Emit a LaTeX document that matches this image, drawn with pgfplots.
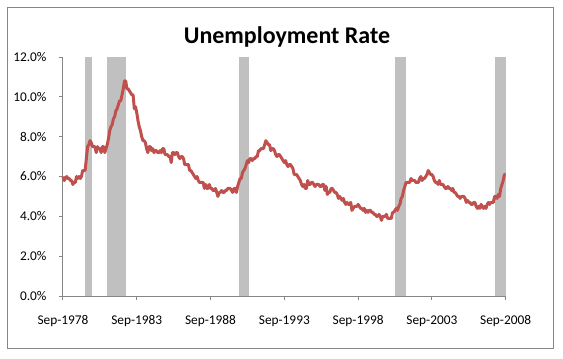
\documentclass[border=0pt]{standalone}
\usepackage{pgfplots}
\pgfplotsset{compat=1.18}
\usepackage{fontspec}
\setmainfont{Carlito}
\definecolor{linered}{HTML}{C0504D}
\definecolor{bargray}{HTML}{C0C0C0}
\definecolor{axgray}{HTML}{868686}
\begin{document}
\begin{tikzpicture}[x=0.75pt,y=-0.75pt]
\draw[axgray, line width=0.75pt] (7,7) rectangle (553,348);
\node[anchor=base, font=\fontsize{18}{22}\selectfont\bfseries] at (287,43) {Unemployment Rate};
\begin{axis}[
 at={(47.25pt,-222pt)}, anchor=south west,
 scale only axis, width=332pt, height=179.25pt,
 xmin=0, xmax=360, ymin=0, ymax=12,
 axis lines*=left,
 axis line style={draw=axgray, line width=0.75pt},
 tick style={draw=axgray, line width=0.75pt},
 tick align=outside, major tick length=3.2pt,
 xtick={0,60,120,180,240,300,360},
 xticklabels={Sep-1978,Sep-1983,Sep-1988,Sep-1993,Sep-1998,Sep-2003,Sep-2008},
 ytick={0,2,4,6,8,10,12},
 yticklabels={0.0\%,2.0\%,4.0\%,6.0\%,8.0\%,10.0\%,12.0\%},
 tick label style={font=\fontsize{10}{12}\selectfont, inner sep=0pt},
 xticklabel style={anchor=north, yshift=-11.5pt},
 yticklabel style={anchor=east, xshift=-9pt},
 clip=false,
]
% recession bars
\addplot[fill=bargray, draw=none] coordinates {(18,12)(23.3,12)} \closedcycle;
\addplot[fill=bargray, draw=none] coordinates {(35.8,12)(51.2,12)} \closedcycle;
\addplot[fill=bargray, draw=none] coordinates {(143,12)(151.3,12)} \closedcycle;
\addplot[fill=bargray, draw=none] coordinates {(270,12)(279,12)} \closedcycle;
\addplot[fill=bargray, draw=none] coordinates {(351.3,12)(360,12)} \closedcycle;
% unemployment rate
\addplot[linered, line width=2.25pt, line join=round, mark=none] coordinates {
(0,6.0)(1,5.8)(2,5.9)(3,6.0)
(4,5.9)(5,5.9)(6,5.8)(7,5.8)(8,5.6)(9,5.7)(10,5.7)(11,6.0)(12,5.9)(13,6.0)(14,5.9)(15,6.0)
(16,6.3)(17,6.3)(18,6.3)(19,6.9)(20,7.5)(21,7.6)(22,7.8)(23,7.7)(24,7.5)(25,7.5)(26,7.5)(27,7.2)
(28,7.5)(29,7.4)(30,7.4)(31,7.2)(32,7.5)(33,7.5)(34,7.2)(35,7.4)(36,7.6)(37,7.9)(38,8.3)(39,8.5)
(40,8.6)(41,8.9)(42,9.0)(43,9.3)(44,9.4)(45,9.6)(46,9.8)(47,9.8)(48,10.1)(49,10.4)(50,10.8)(51,10.8)
(52,10.4)(53,10.4)(54,10.3)(55,10.2)(56,10.1)(57,10.1)(58,9.4)(59,9.5)(60,9.2)(61,8.8)(62,8.5)(63,8.3)
(64,8.0)(65,7.8)(66,7.8)(67,7.7)(68,7.4)(69,7.2)(70,7.5)(71,7.5)(72,7.3)(73,7.4)(74,7.2)(75,7.3)
(76,7.3)(77,7.2)(78,7.2)(79,7.3)(80,7.2)(81,7.4)(82,7.4)(83,7.1)(84,7.1)(85,7.1)(86,7.0)(87,7.0)
(88,6.7)(89,7.2)(90,7.2)(91,7.1)(92,7.2)(93,7.2)(94,7.0)(95,6.9)(96,7.0)(97,7.0)(98,6.9)(99,6.6)
(100,6.6)(101,6.6)(102,6.6)(103,6.3)(104,6.3)(105,6.2)(106,6.1)(107,6.0)(108,5.9)(109,6.0)(110,5.8)(111,5.7)
(112,5.7)(113,5.7)(114,5.7)(115,5.4)(116,5.6)(117,5.4)(118,5.4)(119,5.6)(120,5.4)(121,5.4)(122,5.3)(123,5.3)
(124,5.4)(125,5.2)(126,5.0)(127,5.2)(128,5.2)(129,5.3)(130,5.2)(131,5.2)(132,5.3)(133,5.3)(134,5.4)(135,5.4)
(136,5.4)(137,5.3)(138,5.2)(139,5.4)(140,5.4)(141,5.2)(142,5.5)(143,5.7)(144,5.9)(145,5.9)(146,6.2)(147,6.3)
(148,6.4)(149,6.6)(150,6.8)(151,6.7)(152,6.9)(153,6.9)(154,6.8)(155,6.9)(156,6.9)(157,7.0)(158,7.0)(159,7.3)
(160,7.3)(161,7.4)(162,7.4)(163,7.4)(164,7.6)(165,7.8)(166,7.7)(167,7.6)(168,7.6)(169,7.3)(170,7.4)(171,7.4)
(172,7.3)(173,7.1)(174,7.0)(175,7.1)(176,7.1)(177,7.0)(178,6.9)(179,6.8)(180,6.7)(181,6.8)(182,6.6)(183,6.5)
(184,6.6)(185,6.6)(186,6.5)(187,6.4)(188,6.1)(189,6.1)(190,6.1)(191,6.0)(192,5.9)(193,5.8)(194,5.6)(195,5.5)
(196,5.6)(197,5.4)(198,5.4)(199,5.8)(200,5.6)(201,5.6)(202,5.7)(203,5.7)(204,5.6)(205,5.5)(206,5.6)(207,5.6)
(208,5.6)(209,5.5)(210,5.5)(211,5.6)(212,5.6)(213,5.3)(214,5.5)(215,5.1)(216,5.2)(217,5.2)(218,5.4)(219,5.4)
(220,5.3)(221,5.2)(222,5.2)(223,5.1)(224,4.9)(225,5.0)(226,4.9)(227,4.8)(228,4.9)(229,4.7)(230,4.6)(231,4.7)
(232,4.6)(233,4.6)(234,4.7)(235,4.3)(236,4.4)(237,4.5)(238,4.5)(239,4.5)(240,4.6)(241,4.5)(242,4.4)(243,4.4)
(244,4.3)(245,4.4)(246,4.2)(247,4.3)(248,4.2)(249,4.3)(250,4.3)(251,4.2)(252,4.2)(253,4.1)(254,4.1)(255,4.0)
(256,4.0)(257,4.1)(258,4.0)(259,3.8)(260,4.0)(261,4.0)(262,4.0)(263,4.1)(264,3.9)(265,3.9)(266,3.9)(267,3.9)
(268,4.2)(269,4.2)(270,4.3)(271,4.4)(272,4.3)(273,4.5)(274,4.6)(275,4.9)(276,5.0)(277,5.3)(278,5.5)(279,5.7)
(280,5.7)(281,5.7)(282,5.7)(283,5.9)(284,5.8)(285,5.8)(286,5.8)(287,5.7)(288,5.7)(289,5.7)(290,5.9)(291,6.0)
(292,5.8)(293,5.9)(294,5.9)(295,6.0)(296,6.1)(297,6.3)(298,6.2)(299,6.1)(300,6.1)(301,6.0)(302,5.8)(303,5.7)
(304,5.7)(305,5.6)(306,5.8)(307,5.6)(308,5.6)(309,5.6)(310,5.5)(311,5.4)(312,5.4)(313,5.5)(314,5.4)(315,5.4)
(316,5.3)(317,5.4)(318,5.2)(319,5.2)(320,5.1)(321,5.0)(322,5.0)(323,4.9)(324,5.0)(325,5.0)(326,5.0)(327,4.9)
(328,4.7)(329,4.8)(330,4.7)(331,4.7)(332,4.6)(333,4.6)(334,4.7)(335,4.7)(336,4.5)(337,4.4)(338,4.5)(339,4.4)
(340,4.6)(341,4.5)(342,4.4)(343,4.5)(344,4.4)(345,4.6)(346,4.7)(347,4.6)(348,4.7)(349,4.7)(350,4.7)(351,5.0)
(352,5.0)(353,4.9)(354,5.1)(355,5.0)(356,5.4)(357,5.6)(358,5.8)(359,6.1)(360,6.1)
};
\end{axis}
\pgfresetboundingbox
\useasboundingbox (0,0) rectangle (563,358);
\end{tikzpicture}
\end{document}
